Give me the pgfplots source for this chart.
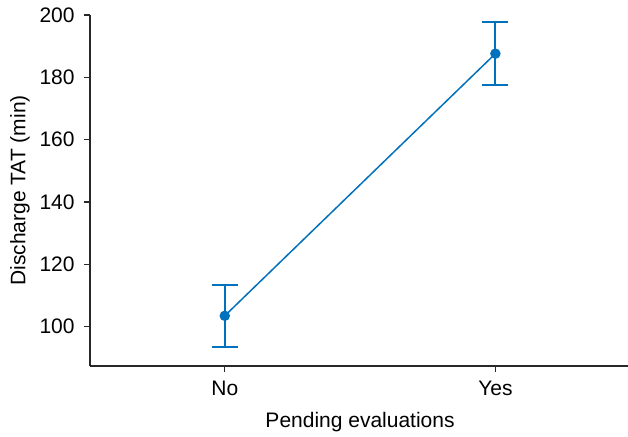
\documentclass[border=0pt]{standalone}
\usepackage{pgfplots}
\pgfplotsset{compat=1.18}
\usepackage{fontspec}
\setmainfont{Liberation Sans}
\definecolor{lineblue}{RGB}{0,114,189}
\definecolor{axgray}{RGB}{40,40,40}
\begin{document}
\fontsize{10.5}{12}\selectfont
\begin{tikzpicture}
\begin{axis}[
  scale only axis,
  width=269pt, height=175.5pt,
  at={(0,0)}, anchor=south west,
  xmin=-0.498, xmax=1.49,
  ymin=87.4, ymax=200,
  axis x line*=bottom, axis y line*=left,
  axis line style={axgray, line width=0.8pt},
  xtick={0,1}, xticklabels={No,Yes},
  ytick={100,120,140,160,180,200},
  tick align=outside,
  major tick length=3pt,
  tick style={axgray, line width=0.7pt},
  ticklabel style={font=\fontsize{10.5}{12}\selectfont},
  /pgf/number format/assume math mode=true,
  xticklabel style={yshift=-1pt},
  yticklabel style={xshift=-1pt},
  xlabel={Pending evaluations},
  ylabel={Discharge TAT (min)},
  xlabel style={at={(axis description cs:0.502,0)}, anchor=center, yshift=-28pt, font=\fontsize{10.5}{12}\selectfont},
  ylabel style={at={(axis description cs:-0.130,0.5)}, anchor=center, font=\fontsize{10.5}{12}\selectfont},
  clip=false,
]
\addplot[color=lineblue, line width=0.75pt, mark=*, mark size=2.3pt,
  mark options={line width=0.6pt},
  error bars/.cd, y dir=both, y explicit,
  error bar style={color=lineblue, line width=0.95pt},
  error mark options={color=lineblue, rotate=90, mark size=6.5pt, line width=0.95pt}]
  coordinates {
    (0,103.5) +- (0,9.9)
    (1,187.6) +- (0,10.2)
  };
\end{axis}
\pgfresetboundingbox
\path (-45pt,-35.5pt) rectangle (269pt,183pt);
\end{tikzpicture}
\end{document}
